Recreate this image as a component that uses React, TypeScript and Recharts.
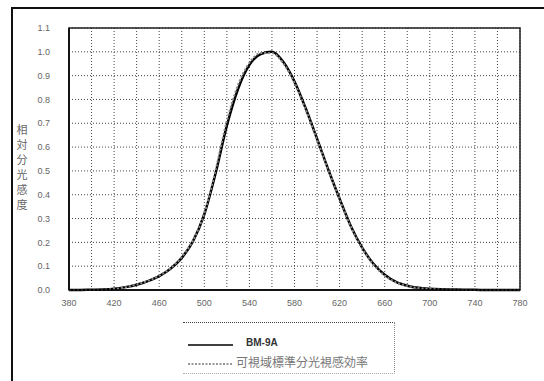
import { LineChart, Line, XAxis, YAxis, CartesianGrid, ReferenceArea } from 'recharts'

// wavelength (nm), every 10 nm
const WAVELENGTH = [
  380, 390, 400, 410, 420, 430, 440, 450, 460, 470, 480, 490, 500, 510, 520, 530, 540, 550, 560, 570,
  580, 590, 600, 610, 620, 630, 640, 650, 660, 670, 680, 690, 700, 710, 720, 730, 740, 750, 760, 770, 780,
]

// BM-9A relative response
const BM9A = [
  0, 0, 0.001, 0.002, 0.005, 0.012, 0.022, 0.037, 0.058, 0.089, 0.135, 0.205, 0.318, 0.49, 0.69, 0.845,
  0.945, 0.99, 1.0, 0.958, 0.875, 0.762, 0.635, 0.505, 0.383, 0.268, 0.178, 0.11, 0.064, 0.034, 0.018,
  0.009, 0.005, 0.003, 0.002, 0.001, 0.001, 0, 0, 0, 0,
]

// standard photopic luminous efficiency
const V_LAMBDA = [
  0, 0, 0.0004, 0.0012, 0.004, 0.0116, 0.023, 0.038, 0.06, 0.091, 0.139, 0.208, 0.323, 0.503, 0.71,
  0.862, 0.954, 0.995, 0.995, 0.952, 0.87, 0.757, 0.631, 0.503, 0.381, 0.265, 0.175, 0.107, 0.061,
  0.032, 0.017, 0.0082, 0.0041, 0.0021, 0.001, 0.0005, 0.0002, 0.0001, 0, 0, 0,
]

const X_TICKS = [
  380, 400, 420, 440, 460, 480, 500, 520, 540, 560, 580, 600, 620, 640, 660, 680, 700, 720, 740, 760, 780,
]
const Y_TICKS = [0, 0.1, 0.2, 0.3, 0.4, 0.5, 0.6, 0.7, 0.8, 0.9, 1.0, 1.1]

const data = WAVELENGTH.map((w, i) => ({ w, bm: BM9A[i], v: V_LAMBDA[i] }))

const JP = '"Noto Sans CJK JP", sans-serif'
const LAT = '"Liberation Sans", Arial, sans-serif'

export default function App() {
  return (
    <div
      style={{
        position: 'absolute',
        left: 0,
        top: 0,
        width: 544,
        height: 381,
        background: '#fff',
        overflow: 'hidden',
      }}
    >
      {/* scanned page frame */}
      <div style={{ position: 'absolute', left: 11, top: 7, width: 540, height: 380, borderLeft: '2px solid #111', borderTop: '2px solid #111' }} />

      <LineChart width={544} height={381} data={data} margin={{ top: 28, right: 24, left: 0, bottom: 61 }}>
        <CartesianGrid stroke="#444" strokeDasharray="1 2" />
        <XAxis
          dataKey="w"
          type="number"
          domain={[380, 780]}
          ticks={X_TICKS}
          interval={0}
          tickFormatter={(v) => ((v - 380) % 40 === 0 ? String(v) : '')}
          tickSize={0}
          tickMargin={10}
          height={30}
          axisLine={{ stroke: '#000', strokeWidth: 1.5 }}
          tick={{ fontSize: 9, fill: '#666', fontFamily: LAT }}
        />
        <YAxis
          type="number"
          domain={[0, 1.1]}
          ticks={Y_TICKS}
          interval={0}
          tickFormatter={(v) => Number(v).toFixed(1)}
          width={69}
          tickSize={0}
          tickMargin={19}
          axisLine={{ stroke: '#000', strokeWidth: 1.5 }}
          tick={{ fontSize: 9, fill: '#666', fontFamily: LAT }}
        />
        <ReferenceArea x1={380} x2={780} y1={0} y2={1.1} fill="none" stroke="#222" strokeWidth={1.5} />
        <Line
          dataKey="bm"
          type="monotone"
          stroke="#000"
          strokeWidth={2.5}
          dot={false}
          isAnimationActive={false}
        />
        <Line
          dataKey="v"
          type="monotone"
          stroke="#888"
          strokeWidth={2}
          strokeDasharray="2 2"
          dot={false}
          isAnimationActive={false}
        />
      </LineChart>

      {/* y axis title, vertical */}
      <div
        style={{
          position: 'absolute',
          left: 16,
          top: 124,
          writingMode: 'vertical-rl',
          fontFamily: JP,
          fontSize: 11,
          letterSpacing: 4,
          color: '#666',
          lineHeight: 1,
        }}
      >
        相対分光感度
      </div>

      {/* legend */}
      <div
        style={{
          position: 'absolute',
          left: 183,
          top: 322,
          width: 212,
          height: 52,
          borderTop: '1px dotted #444',
          borderRight: '1px dotted #888',
          borderBottom: '1px dotted #aaa',
          boxSizing: 'border-box',
        }}
      >
        <svg width={50} height={52} style={{ position: 'absolute', left: 3, top: 0 }}>
          <line x1={2} x2={47} y1={22} y2={22} stroke="#000" strokeWidth={1.5} />
          <line x1={2} x2={47} y1={41} y2={41} stroke="#777" strokeWidth={1.5} strokeDasharray="2 1.5" />
        </svg>
        <div style={{ position: 'absolute', left: 63, top: 15, fontFamily: LAT, fontSize: 10, fontWeight: 'bold', color: '#333', lineHeight: 1 }}>
          BM-9A
        </div>
        <div style={{ position: 'absolute', left: 53, top: 33, fontFamily: JP, fontSize: 12, color: '#777', lineHeight: 1, whiteSpace: 'nowrap' }}>
          可視域標準分光視感効率
        </div>
      </div>
    </div>
  )
}
